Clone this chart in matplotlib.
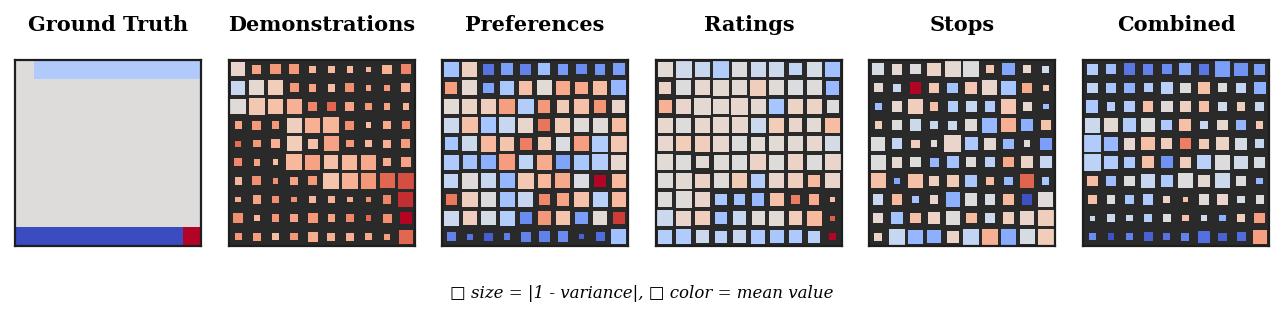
import numpy as np
import matplotlib
matplotlib.use("Agg")
import matplotlib.pyplot as plt
from matplotlib.patches import Rectangle

titles = ["Ground Truth", "Demonstrations", "Preferences", "Ratings", "Stops", "Combined"]

gt_mean = [
    [0, -.3, -.3, -.3, -.3, -.3, -.3, -.3, -.3, -.3],
    [0] * 10, [0] * 10, [0] * 10, [0] * 10, [0] * 10, [0] * 10, [0] * 10, [0] * 10,
    [-1, -1, -1, -1, -1, -1, -1, -1, -1, 1],
]

demo_mag = [
    [.84, .54, .60, .60, .40, .44, .40, .30, .56, .60],
    [.84, .90, .90, .54, .44, .44, .54, .34, .40, .54],
    [.94, 1.0, .90, .90, .56, .56, .54, .40, .40, .36],
    [.44, .54, .44, .90, .90, .94, .54, .34, .50, .50],
    [.34, .44, .54, .90, .60, .90, .44, .44, .50, .56],
    [.50, .40, .34, .94, .90, .84, .90, .90, .50, .60],
    [.44, .54, .34, .44, .54, .94, .94, .94, .90, .94],
    [.34, .50, .44, .34, .40, .40, .34, .34, .50, .90],
    [.60, .40, .44, .50, .60, .44, .50, .34, .54, .70],
    [.44, .50, .44, .44, .60, .50, .50, .40, .36, .84],
]
demo_mean = [
    [.10, .45, .50, .50, .35, .32, .32, .35, .37, .60],
    [-.15, .07, .18, .50, .45, .30, .55, .45, .50, .38],
    [.03, .22, .27, .38, .60, .72, .45, .50, .45, .35],
    [.45, .50, .50, .17, .38, .35, .55, .30, .42, .55],
    [.70, .50, .38, .18, .28, .45, .50, .33, .38, .48],
    [.58, .45, .28, .33, .45, .28, .33, .42, .40, .45],
    [.35, .55, .55, .45, .50, .25, .37, .50, .72, .82],
    [.40, .45, .55, .55, .35, .37, .40, .55, .60, .92],
    [.55, .33, .52, .45, .50, .45, .58, .72, .55, 1.0],
    [.50, .48, .30, .50, .40, .38, .38, .42, .48, .72],
]

pref_mag = [
    [.90, .90, .64, .74, .64, .74, .64, .60, .64, .70],
    [.74, .90, .64, .84, .80, .90, .84, .74, .84, .90],
    [.90, .90, .94, .94, .94, .74, .74, .84, .74, .80],
    [.90, 1.0, .94, .94, .90, .74, .90, .84, .90, .84],
    [.80, .90, .94, .84, .70, .80, .84, .90, .94, .94],
    [.90, .84, .84, .94, .84, .90, .84, .90, .94, .90],
    [.84, .94, .90, .90, .94, .80, .90, .84, .70, .84],
    [.64, .94, .90, .90, .90, .64, .74, .84, .90, .84],
    [.90, .84, .84, .90, .70, .80, .84, .74, .84, .74],
    [.54, .34, .50, .40, .60, .64, .64, .30, .54, .90],
]
pref_mean = [
    [-.38, .15, -.82, -.60, -.75, -.40, -.62, -.70, -.65, -.60],
    [.47, .07, -.57, -.33, .28, .04, .42, .42, .30, -.45],
    [.04, .12, .17, .47, -.28, .50, .20, .28, .52, .10],
    [-.12, .28, -.35, -.15, .10, .66, .20, .02, .03, .30],
    [-.35, -.12, .32, .25, .62, .20, -.03, .47, -.28, .23],
    [-.32, -.37, -.50, .48, -.20, .40, -.57, -.34, -.27, .08],
    [-.18, .03, -.15, -.45, .23, .33, .42, -.03, 1.0, .32],
    [.65, .17, 0, -.37, -.16, .58, .45, .27, -.25, .32],
    [-.13, .17, -.06, -.27, -.70, .50, .25, -.60, .04, .87],
    [-.75, -.82, -.92, -.77, -.75, -.75, -.70, -.90, -.85, -.38],
]

rate_mag = [
    [.90, 1.0, .90, 1.0, .90, .90, .90, .74, .90, .90],
    [.74, .90, .90, .94, .90, .94, .90, .90, .90, .80],
    [.80, .90, 1.0, .94, 1.0, .90, .90, .90, .90, .74],
    [.90, .90, .90, .94, .94, .90, .90, .80, .84, .90],
    [.90, .90, .94, .94, .90, .84, .90, .90, .90, .90],
    [.94, .90, .74, .90, .90, .94, .90, .94, .90, .94],
    [.90, 1.0, .84, .90, .90, .84, .90, .90, .70, .90],
    [.84, 1.0, .90, .70, .64, .74, .80, .54, .64, .30],
    [.94, .90, .84, .70, .80, .80, .90, .80, .90, .30],
    [.84, .90, .80, .74, .80, .84, .80, .80, .70, .40],
]
rate_mean = [
    [.04, -.10, -.15, -.28, 0, -.12, -.12, -.18, -.05, -.38],
    [.13, 0, .08, .06, .05, .17, .04, -.02, .01, -.43],
    [.37, .10, .05, .06, .08, .06, -.35, .12, .13, 0],
    [.08, .01, .08, .08, .08, -.12, .18, .10, .04, .30],
    [.08, .18, .17, .08, 0, .04, .04, .05, .08, -.06],
    [.04, .01, .04, .02, 0, .13, .01, .13, 0, .10],
    [.01, .05, .13, .02, .20, -.28, .10, .17, .32, .10],
    [.02, .02, .10, -.34, -.38, -.43, .28, .63, .40, .27],
    [-.12, .10, .17, -.38, -.15, .04, .04, .18, .32, .75],
    [-.27, -.29, -.12, -.25, -.15, -.32, -.34, -.32, -.25, 1.0],
]

stop_mag = [
    [.74, .64, .60, .80, .94, .94, .50, .74, .50, .44],
    [.54, .50, .70, .64, .64, .70, .90, .84, .64, .34],
    [.44, .64, .94, .50, .60, .64, .64, .94, .54, .34],
    [.44, .64, .70, .50, .54, .70, .90, .84, .70, .60],
    [.84, .64, .50, .40, 1.0, .80, .70, .60, .40, .70],
    [.90, .64, .60, .54, .70, .60, .60, .60, .74, .74],
    [.90, .40, .84, .64, .70, .70, .50, .50, .80, .44],
    [.60, .64, .44, .50, .84, .74, .64, .70, .64, .90],
    [.60, .74, .60, .74, .84, .64, .60, .70, .80, .94],
    [.50, .94, .84, .80, .70, .94, .94, .94, .90, .94],
]
stop_mean = [
    [-.05, .07, 0, .12, .07, 0, .23, -.56, .10, -.10],
    [.07, -.15, 1.0, .23, -.37, .23, .10, -.35, .42, .23],
    [-.40, .07, .17, .28, -.28, -.15, -.29, .23, .07, -.40],
    [.17, .01, -.12, -.15, -.12, .02, -.43, .38, -.50, .25],
    [0, -.18, .17, 0, .10, -.32, .07, -.43, 0, -.60],
    [0, .07, 0, -.45, -.37, .02, -.25, .42, .12, -.15],
    [.28, -.55, .28, .17, .20, -.34, .30, -.43, .73, -.34],
    [-.15, .32, -.37, .10, -.50, 0, -.05, .32, -.97, .03],
    [.07, -.37, .28, .12, .02, .32, -.12, .17, .10, .17],
    [.12, -.15, -.45, -.50, .12, -.18, .38, -.53, -.05, .18],
]

comb_mag = [
    [.64, .60, .70, .64, .60, .70, .64, .94, .80, .64],
    [.64, .60, .60, .54, .70, .64, .70, .54, .60, .70],
    [.74, .50, .64, .64, .70, .64, .64, .50, .50, .54],
    [.90, .80, .80, .80, .64, .74, .44, .64, .60, .44],
    [1.0, .84, .70, .80, .64, .64, .60, .80, .70, .54],
    [1.0, .80, .64, .74, .74, .64, .84, .90, .80, .64],
    [.64, .60, .60, .80, .74, .90, .74, .90, .64, .40],
    [.54, .50, .50, .64, .44, .30, .60, .64, .44, .50],
    [.30, .44, .40, .44, .50, .40, .34, .40, .44, .64],
    [.40, .40, .40, .54, .44, .50, .70, .50, .54, .84],
]
comb_mean = [
    [-.29, -.40, -.80, -.75, -.70, -.53, -.80, -.60, -.67, -.60],
    [-.20, -.35, -.48, -.29, -.24, 0, .28, 0, -.18, -.50],
    [-.32, -.27, -.29, .28, .03, .15, .28, -.10, .17, -.15],
    [-.12, .07, -.28, 0, -.32, .28, -.15, .07, -.45, .23],
    [-.29, -.43, .07, .28, .17, .62, .20, .12, -.05, -.15],
    [-.22, -.29, -.32, .28, -.67, .17, -.24, 0, -.10, -.05],
    [.30, -.40, 0, -.15, -.32, 0, .07, -.12, 0, -.45],
    [.28, 0, -.35, -.32, .12, .28, .02, .10, -.05, 0],
    [-.15, -.12, -.15, -.28, 0, .28, -.10, -.50, .17, .47],
    [-.70, -.97, -.75, -.90, -.82, -.75, -.83, -.90, -.85, .47],
]

panels = [(demo_mag, demo_mean), (pref_mag, pref_mean), (rate_mag, rate_mean),
          (stop_mag, stop_mean), (comb_mag, comb_mean)]

cmap = plt.get_cmap("coolwarm")
norm = matplotlib.colors.Normalize(vmin=-1, vmax=1)

W, H = 1283, 316
fig = plt.figure(figsize=(W / 100, H / 100), dpi=100)
lefts = [15, 229, 442, 656, 869, 1083]
size_px = 186
ax_top = 60

serif = ["DejaVu Serif", "DejaVu Sans"]

def make_ax(i):
    ax = fig.add_axes([lefts[i] / W, (H - ax_top - size_px) / H, size_px / W, size_px / H])
    ax.set_xlim(-0.5, 9.5)
    ax.set_ylim(9.5, -0.5)
    ax.set_xticks([])
    ax.set_yticks([])
    for s in ax.spines.values():
        s.set_color("#1e1e1e")
        s.set_linewidth(1.6)
    fig.text((lefts[i] + size_px / 2) / W, 1 - 25 / H, titles[i], ha="center", va="center",
             fontsize=15, fontweight="bold", family=serif)
    return ax

# Ground truth
ax = make_ax(0)
ax.imshow(np.array(gt_mean), cmap=cmap, norm=norm, extent=(-0.5, 9.5, 9.5, -0.5),
          interpolation="nearest", aspect="auto")

scale = 0.9
for k, (mag, mean) in enumerate(panels):
    ax = make_ax(k + 1)
    ax.set_facecolor("#2a2a2a")
    mag = np.array(mag)
    mean = np.array(mean)
    for r in range(10):
        for c in range(10):
            s = mag[r, c] * scale
            ax.add_patch(Rectangle((c - s / 2, r - s / 2), s, s,
                                   facecolor=cmap(norm(mean[r, c])), edgecolor="none"))

fig.text(0.5, 1 - 293 / H, "\u25a1 size = |1 - variance|, \u25a1 color = mean value",
         ha="center", va="center", fontsize=12, style="italic", family=serif)

fig.savefig("out.png", dpi=100, facecolor="white")
